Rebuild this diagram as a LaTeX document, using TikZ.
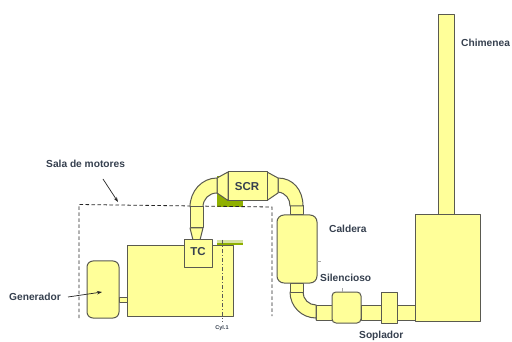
\documentclass[tikz,border=0pt]{standalone}
\usepackage{fontspec}
\setmainfont{Liberation Sans}
\usetikzlibrary{arrows.meta}
\definecolor{part}{HTML}{FFFF99}
\definecolor{edgeg}{HTML}{5A5A50}
\definecolor{txt}{HTML}{36404F}
\definecolor{grn}{HTML}{8FB000}
\tikzset{
  partbox/.style={draw=edgeg,fill=part,line width=1pt,line join=round},
  room/.style={draw=black!85,dash pattern=on 3.5pt off 2.5pt,line width=0.8pt},
  lab/.style={font=\bfseries\fontsize{10.2}{12}\selectfont,text=txt,inner sep=0pt},
  lead/.style={draw=black!85,line width=0.7pt,-{Stealth[length=5pt,width=3.5pt]}}
}
\begin{document}
\begin{tikzpicture}[x=1pt,y=-1pt]
\useasboundingbox (0,0) rectangle (512,342);
\fill[white] (0,0) rectangle (512,342);
% green marks
\fill[grn] (217,176) rectangle (243,207);
\fill[grn!35] (217,240) rectangle (243,243.5);
\fill[grn] (217,243) rectangle (243,245);
% room
\draw[room] (79,318) -- (79,204.5) -- (272,207) -- (272,316);
% chimney and big box
\draw[partbox] (438,15) rectangle (454,215);
\draw[partbox] (415,215) rectangle (480,321);
% lower duct
\draw[partbox] (397,305) rectangle (415,320);
\draw[partbox] (361,305) rectangle (381,320);
\draw[partbox] (316,305) rectangle (332,320);
\draw[partbox] (290,292) arc[start angle=180,end angle=90,radius=26] -- (316,320) -- (316,305) arc[start angle=90,end angle=180,x radius=13,y radius=13] -- cycle;
\draw[partbox] (290,283) rectangle (303,292);
% upper duct
\draw[partbox] (290,206) rectangle (303,215);
\draw[partbox] (278,178) .. controls (293,178) and (303,190) .. (303,206) -- (290,206) .. controls (290,199) and (286,193) .. (278,192) -- cycle;
\draw[partbox] (267,172) -- (278,178) -- (278,193) -- (267,200.5) -- cycle;
\draw[partbox] (228,172) rectangle (267,200.5);
\draw[partbox] (228,172) -- (217,178) -- (217,193) -- (228,200.5) -- cycle;
\draw[partbox] (217,178) .. controls (202,178) and (190,191) .. (190,207) -- (203,207) .. controls (203,199) and (209,193) .. (217,193) -- cycle;
\draw[partbox] (190,207) rectangle (203,228);
\draw[partbox] (190,228) -- (203,228) -- (200,240) -- (193,240) -- cycle;
% engine group
\draw[partbox] (119,297) rectangle (127,302);
\draw[partbox] (127,246) rectangle (233,316);
\draw[partbox] (184,240) rectangle (212,268);
\draw[partbox,rounded corners=6pt] (87,261) rectangle (119,318);
% centre line
\draw[black!65,dash pattern=on 4pt off 2pt on 1pt off 2pt,line width=0.5pt] (222,240) -- (222,322);
% boiler, silencer, blower
\draw[partbox,rounded corners=7pt] (277,215) rectangle (317,283);
\draw[partbox,rounded corners=4pt] (332,292) rectangle (361,323);
\draw[partbox] (381,292) rectangle (397,323);
\draw[black!35,line width=0.4pt] (317,261) -- (321,261);
\draw[black!35,line width=0.4pt] (342,288) -- (342,292);
% labels
\node[lab,anchor=west] (chim) at (461,43) {Chimenea};
\node[lab,font=\bfseries\fontsize{11.5}{12}\selectfont] (scr) at (247,187) {SCR};
\node[lab,font=\bfseries\fontsize{11.5}{12}\selectfont] (tc) at (198,252) {TC};
\node[lab,anchor=west] (cald) at (329,229) {Caldera};
\node[lab,anchor=west] (sil) at (320,278) {Silencioso};
\node[lab,anchor=west] (sop) at (359,335.5) {Soplador};
\node[lab,anchor=west] (gen) at (9,297) {Generador};
\node[lab,anchor=west] (sala) at (46,164) {Sala de motores};
\node[font=\bfseries\fontsize{5.5}{7}\selectfont,text=txt,inner sep=0pt] (cyl) at (222,328) {Cyl.1};
\coordinate (salaA) at (103,179);
\coordinate (salaB) at (118,202);
\coordinate (genA) at (68,297);
\coordinate (genB) at (102,292);
\draw[lead] (salaA) -- (salaB);
\draw[lead] (genA) -- (genB);
\end{tikzpicture}
\end{document}
